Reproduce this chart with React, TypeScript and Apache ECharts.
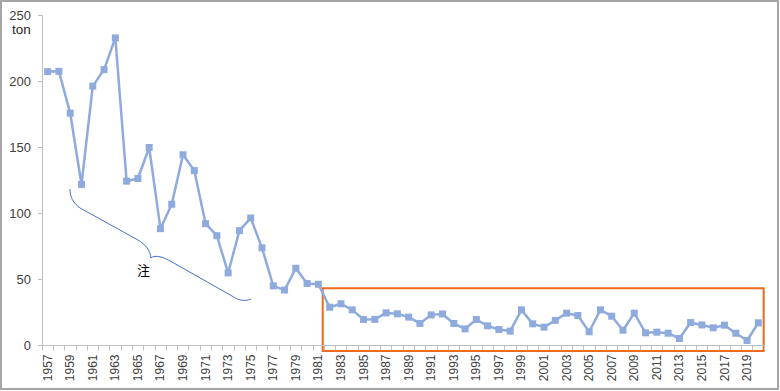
import React, { useEffect, useRef } from "react";
import * as echarts from "echarts";

const years: string[] = [
  "1957", "1958", "1959", "1960", "1961", "1962", "1963", "1964", "1965", "1966",
  "1967", "1968", "1969", "1970", "1971", "1972", "1973", "1974", "1975", "1976",
  "1977", "1978", "1979", "1980", "1981", "1982", "1983", "1984", "1985", "1986",
  "1987", "1988", "1989", "1990", "1991", "1992", "1993", "1994", "1995", "1996",
  "1997", "1998", "1999", "2000", "2001", "2002", "2003", "2004", "2005", "2006",
  "2007", "2008", "2009", "2010", "2011", "2012", "2013", "2014", "2015", "2016",
  "2017", "2018", "2019", "2020",
];

const tonnage: number[] = [
  207.5, 207.7, 176, 122, 196.5, 209, 233, 124.5, 126.5, 150,
  88.5, 107, 144.5, 132.5, 92.3, 83.2, 55, 87, 96.6, 74,
  45.2, 42, 58.5, 47, 46.4, 29, 31.6, 27, 19.7, 19.8,
  24.7, 24, 21.5, 16.7, 23.2, 23.9, 16.7, 12.6, 19.7, 14.9,
  12.1, 10.9, 27, 16.4, 13.9, 19, 24.5, 22.7, 10.4, 27,
  22.2, 11.6, 24.5, 9.6, 10.1, 9.3, 5.3, 17.4, 15.6, 13.4,
  15.4, 9.3, 3.8, 17.2,
];

const unitLabel = "ton";
const noteLabel = "注";

const bracePath =
  "M70,189 C70,197 73,203 80,208 L138,240 C146,245 150,250 151,258 C153,256 156,256 161,257 C165,258 168,260 172,262 L232,296 C238,300 244,302 251,299";

export default function App() {
  const ref = useRef<HTMLDivElement>(null);

  useEffect(() => {
    document.body.style.margin = "0";
    if (!ref.current) return;
    try {
      echarts.graphic.registerShape("brace", echarts.graphic.extendPath(bracePath, {}));
    } catch (e) {
      // already registered
    }
    const chart = echarts.init(ref.current, null, { renderer: "svg" });
    const font = "'Liberation Sans', Arial, sans-serif";
    chart.setOption({
      animation: false,
      backgroundColor: "#ffffff",
      grid: { left: 42, right: 16, top: 15.5, bottom: 45.5, containLabel: false },
      xAxis: {
        type: "category",
        data: years,
        boundaryGap: true,
        axisLine: { show: true, lineStyle: { color: "#bfbfbf", width: 1 } },
        axisTick: { show: true, interval: 0, length: 5, lineStyle: { color: "#bfbfbf" } },
        axisLabel: {
          interval: 1,
          rotate: 90,
          margin: 9,
          fontSize: 12,
          color: "#404040",
          fontFamily: font,
        },
        splitLine: { show: false },
      },
      yAxis: {
        type: "value",
        min: 0,
        max: 250,
        interval: 50,
        axisLine: { show: true, lineStyle: { color: "#bfbfbf", width: 1 } },
        axisTick: { show: true, length: 4, lineStyle: { color: "#bfbfbf" } },
        axisLabel: { margin: 11, fontSize: 13, color: "#404040", fontFamily: font },
        splitLine: { show: false },
      },
      series: [
        {
          type: "line",
          data: tonnage,
          symbol: "rect",
          symbolSize: 7,
          lineStyle: { color: "#8FAADC", width: 2.5 },
          itemStyle: { color: "#8FAADC" },
        },
      ],
      graphic: [
        {
          type: "rect",
          shape: { x: 1, y: 1, width: 777, height: 388 },
          style: { fill: "none", stroke: "#a6a6a6", lineWidth: 2 },
          silent: true,
        },
        {
          type: "text",
          x: 12,
          y: 22,
          style: { text: unitLabel, fontSize: 13.5, fill: "#262626", fontFamily: font },
        },
        {
          type: "brace",
          x: 0,
          y: 0,
          style: { fill: "none", stroke: "#4472C4", lineWidth: 1 },
        },
        {
          type: "text",
          x: 137,
          y: 263,
          style: { text: noteLabel, fontSize: 13, fill: "#000000", fontFamily: "'Noto Sans CJK JP', sans-serif" },
        },
        {
          type: "rect",
          shape: { x: 322.7, y: 288.3, width: 441, height: 62.7 },
          style: { fill: "none", stroke: "#F0691C", lineWidth: 2 },
          silent: true,
        },
      ],
    });
    return () => chart.dispose();
  }, []);

  return <div ref={ref} style={{ width: 780, height: 391, position: "absolute", left: 0, top: 0 }} />;
}
